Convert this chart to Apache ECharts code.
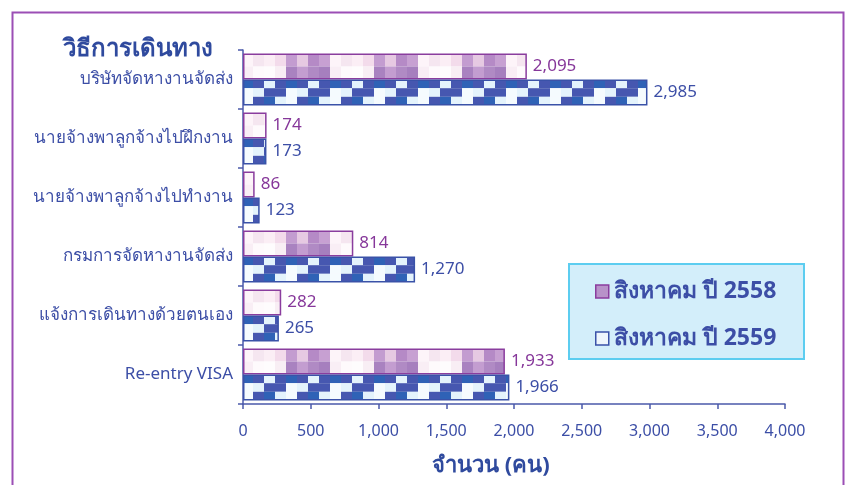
<!DOCTYPE html>
<html><head><meta charset="utf-8">
<script src="https://cdn.jsdelivr.net/npm/echarts@6/dist/echarts.min.js"></script>
<style>html,body{margin:0;padding:0;background:#fff}#c{width:849px;height:485px}</style>
</head><body><div id="c"></div>
<script>
// ---- data ----
const categories = ['Re-entry VISA', 'แจ้งการเดินทางด้วยตนเอง', 'กรมการจัดหางานจัดส่ง', 'นายจ้างพาลูกจ้างไปทำงาน', 'นายจ้างพาลูกจ้างไปฝึกงาน', 'บริษัทจัดหางานจัดส่ง'];
const values2558 = [1933, 282, 814, 86, 174, 2095];
const values2559 = [1966, 265, 1270, 123, 173, 2985];
const seriesNames = ['สิงหาคม ปี 2558', 'สิงหาคม ปี 2559'];
const axisTitle = 'วิธีการเดินทาง';
const valueAxisName = 'จำนวน (คน)';
const valueMin = 0, valueMax = 4000, valueStep = 500;

// ---- styles ----
const FONT = "'Noto Sans', 'DejaVu Sans', sans-serif";
const BLUE_TXT = '#3c4ea6';
const PURPLE_TXT = '#86379a';
const GRID_TOP = 50, CAT_H = 59;

function fillBand(ctx, r0, r1, x, w, color) {
  ctx.fillStyle = color;
  for (const off of [-CAT_H, 0, CAT_H]) {
    const y0 = ((GRID_TOP % CAT_H) + r0 + off);
    ctx.fillRect(x, y0, w, r1 - r0);
  }
}
function tile(w, draw) {
  const c = document.createElement('canvas');
  c.width = w; c.height = CAT_H;
  const ctx = c.getContext('2d');
  draw(ctx);
  return c;
}
const purpleTop = ['#fbeef5', '#f3dbeb', '#c39cd0', '#e6c9e2', '#b58ac6', '#c7a0d2', '#fdf4f9', '#f5e6f0'];
const purpleBot = ['#fefcfd', '#f8eef4', '#a982c0', '#c39dd0', '#b08ac4', '#a67fbe', '#f9eef5', '#fefafc'];
const CW = 11;
const purpleTile = tile(CW * purpleTop.length, ctx => {
  purpleTop.forEach((c, i) => fillBand(ctx, -12, 16.5, i * CW, CW, c));
  purpleBot.forEach((c, i) => fillBand(ctx, 16.5, 45, i * CW, CW, c));
});
const DK = '#4657b0', DK2 = '#2f62b6', LT = '#e4f3fc', LT2 = '#f5fbfe';
const blueRows = [
  [LT, DK, DK2, DK],    // top row
  [DK, DK, LT2, LT],    // middle row
  [DK2, LT, LT2, DK]    // bottom row
];
const blueTile = tile(CW * 4, ctx => {
  const bands = [[15, 38.2], [38.2, 46.8], [46.8, 70]];
  blueRows.forEach((row, ri) => row.forEach((c, i) => fillBand(ctx, bands[ri][0], bands[ri][1], i * CW, CW, c)));
});

const chart = echarts.init(document.getElementById('c'), null, { renderer: 'canvas' });
const fmt = p => Number(p.value).toLocaleString('en-US');
chart.setOption({
  animation: false,
  backgroundColor: '#ffffff',
  textStyle: { fontFamily: FONT },
  title: {
    text: axisTitle, left: 58, top: 32,
    textStyle: { fontFamily: FONT, fontSize: 24, fontWeight: 'bold', color: '#2f4a9e' }
  },
  grid: { left: 243, right: 64, top: GRID_TOP, height: CAT_H * 6, containLabel: false },
  legend: {
    data: [
      { name: seriesNames[0], itemStyle: { color: '#b892c9', borderColor: '#8a3d9e', borderWidth: 1.5 } },
      { name: seriesNames[1], itemStyle: { color: '#eef6fc', borderColor: '#3a52a8', borderWidth: 1.5 } }
    ],
    orient: 'vertical', left: 590, top: 275, itemGap: 24, itemWidth: 13, itemHeight: 13,
    icon: 'rect',
    textStyle: { fontFamily: FONT, fontSize: 23, fontWeight: 'bold', color: BLUE_TXT }
  },
  xAxis: {
    type: 'value', min: valueMin, max: valueMax, interval: valueStep,
    axisLine: { show: true, lineStyle: { color: '#4b5aab', width: 1.5 } },
    axisTick: { show: true, length: 5, lineStyle: { color: '#4b5aab', width: 1.5 } },
    axisLabel: { margin: 19, fontSize: 16, color: BLUE_TXT, fontFamily: FONT,
      formatter: v => v.toLocaleString('en-US') },
    splitLine: { show: false }
  },
  yAxis: {
    type: 'category', data: categories,
    axisLine: { show: true, lineStyle: { color: '#4b5aab', width: 1.5 } },
    axisTick: { show: true, length: 5, lineStyle: { color: '#4b5aab', width: 1.5 } },
    axisLabel: { margin: 10, fontSize: 17, color: BLUE_TXT, fontFamily: FONT }
  },
  series: [
    {
      name: seriesNames[0], type: 'bar', data: values2558, barWidth: 26, barGap: '0%',
      itemStyle: { color: { image: purpleTile, repeat: 'repeat' }, borderColor: '#8a3d9e', borderWidth: 1.5 },
      label: { show: true, position: 'right', distance: 6, formatter: fmt, fontSize: 17, color: PURPLE_TXT, fontFamily: FONT }
    },
    {
      name: seriesNames[1], type: 'bar', data: values2559, barWidth: 26, barGap: '0%',
      itemStyle: { color: { image: blueTile, repeat: 'repeat' }, borderColor: '#3a52a8', borderWidth: 1.5 },
      label: { show: true, position: 'right', distance: 6, formatter: fmt, fontSize: 17, color: BLUE_TXT, fontFamily: FONT }
    }
  ],
  graphic: [
    { type: 'rect', left: 568, top: 263, z: -1, shape: { width: 235, height: 95 },
      style: { fill: '#d3eefa', stroke: '#5ccdf0', lineWidth: 2 } },
    { type: 'text', left: 432, top: 455, style: { text: valueAxisName, fill: '#2f4a9e',
      font: "bold 22px 'Noto Sans', 'DejaVu Sans', sans-serif" } },
    { type: 'rect', left: 10, top: 10, z: 100, silent: true, shape: { width: 831, height: 490 },
      style: { fill: 'none', stroke: '#9b4fb5', lineWidth: 2 } }
  ]
});
</script></body></html>
